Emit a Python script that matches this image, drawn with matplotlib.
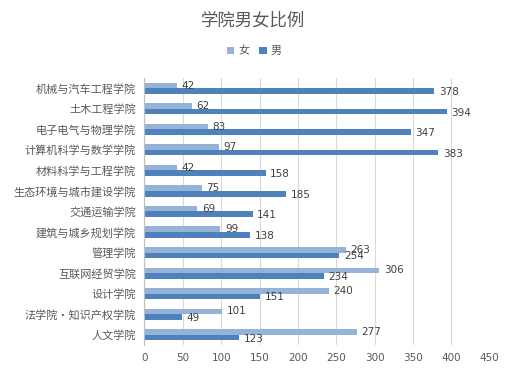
import matplotlib
matplotlib.use("Agg")
import matplotlib.pyplot as plt
import numpy as np

plt.rcParams['font.family'] = ['Noto Sans CJK SC', 'DejaVu Sans']

categories = ["机械与汽车工程学院", "土木工程学院", "电子电气与物理学院", "计算机科学与数学学院",
              "材料科学与工程学院", "生态环境与城市建设学院", "交通运输学院", "建筑与城乡规划学院",
              "管理学院", "互联网经贸学院", "设计学院", "法学院·知识产权学院", "人文学院"]
female = [42, 62, 83, 97, 42, 75, 69, 99, 263, 306, 240, 101, 277]
male = [378, 394, 347, 383, 158, 185, 141, 138, 254, 234, 151, 49, 123]
xticks = [0, 50, 100, 150, 200, 250, 300, 350, 400, 450]

c_f = "#95B3D7"
c_m = "#4F81BD"
txt = "#404040"

fig = plt.figure(figsize=(5.19, 3.82), dpi=100)
ax = fig.add_axes([0.2784, 0.0969, 0.6648, 0.6989])

y = np.arange(len(categories))
h = 0.27
bf = ax.barh(y - h/2, female, height=h, color=c_f, label="女", zorder=2)
bm = ax.barh(y + h/2, male, height=h, color=c_m, label="男", zorder=2)

for yi, v in zip(y - h/2, female):
    ax.text(v + 6, yi, str(v), va="center", ha="left", fontsize=7.5, color=txt,
            family=["DejaVu Sans"])
for yi, v in zip(y + h/2, male):
    ax.text(v + 6, yi + 0.05, str(v), va="center", ha="left", fontsize=7.5, color=txt,
            family=["DejaVu Sans"])

ax.set_xlim(0, 450)
ax.set_ylim(len(categories) - 0.5, -0.5)
ax.set_xticks(xticks)
ax.set_xticklabels([str(t) for t in xticks], fontsize=7.5, color="#595959", family=["DejaVu Sans"])
ax.set_yticks(y)
ax.set_yticklabels(categories, fontsize=8, color="#595959")
ax.tick_params(axis="both", length=0, pad=6)
ax.xaxis.grid(True, color="#D9D9D9", linewidth=0.8, zorder=0)
ax.set_axisbelow(True)
for s in ["top", "right", "bottom"]:
    ax.spines[s].set_visible(False)
ax.spines["left"].set_color("#BFBFBF")
ax.spines["left"].set_linewidth(0.8)

fig.text(0.488, 0.945, "学院男女比例", ha="center", va="center", fontsize=12.5, color="#595959")
fig.legend(handles=[bf, bm], labels=["女", "男"], loc="center", bbox_to_anchor=(0.49, 0.866),
           ncol=2, frameon=False, fontsize=8, handlelength=0.7, handleheight=0.7,
           handletextpad=0.4, columnspacing=0.8, labelcolor="#595959")

fig.savefig("out.png", dpi=100)
